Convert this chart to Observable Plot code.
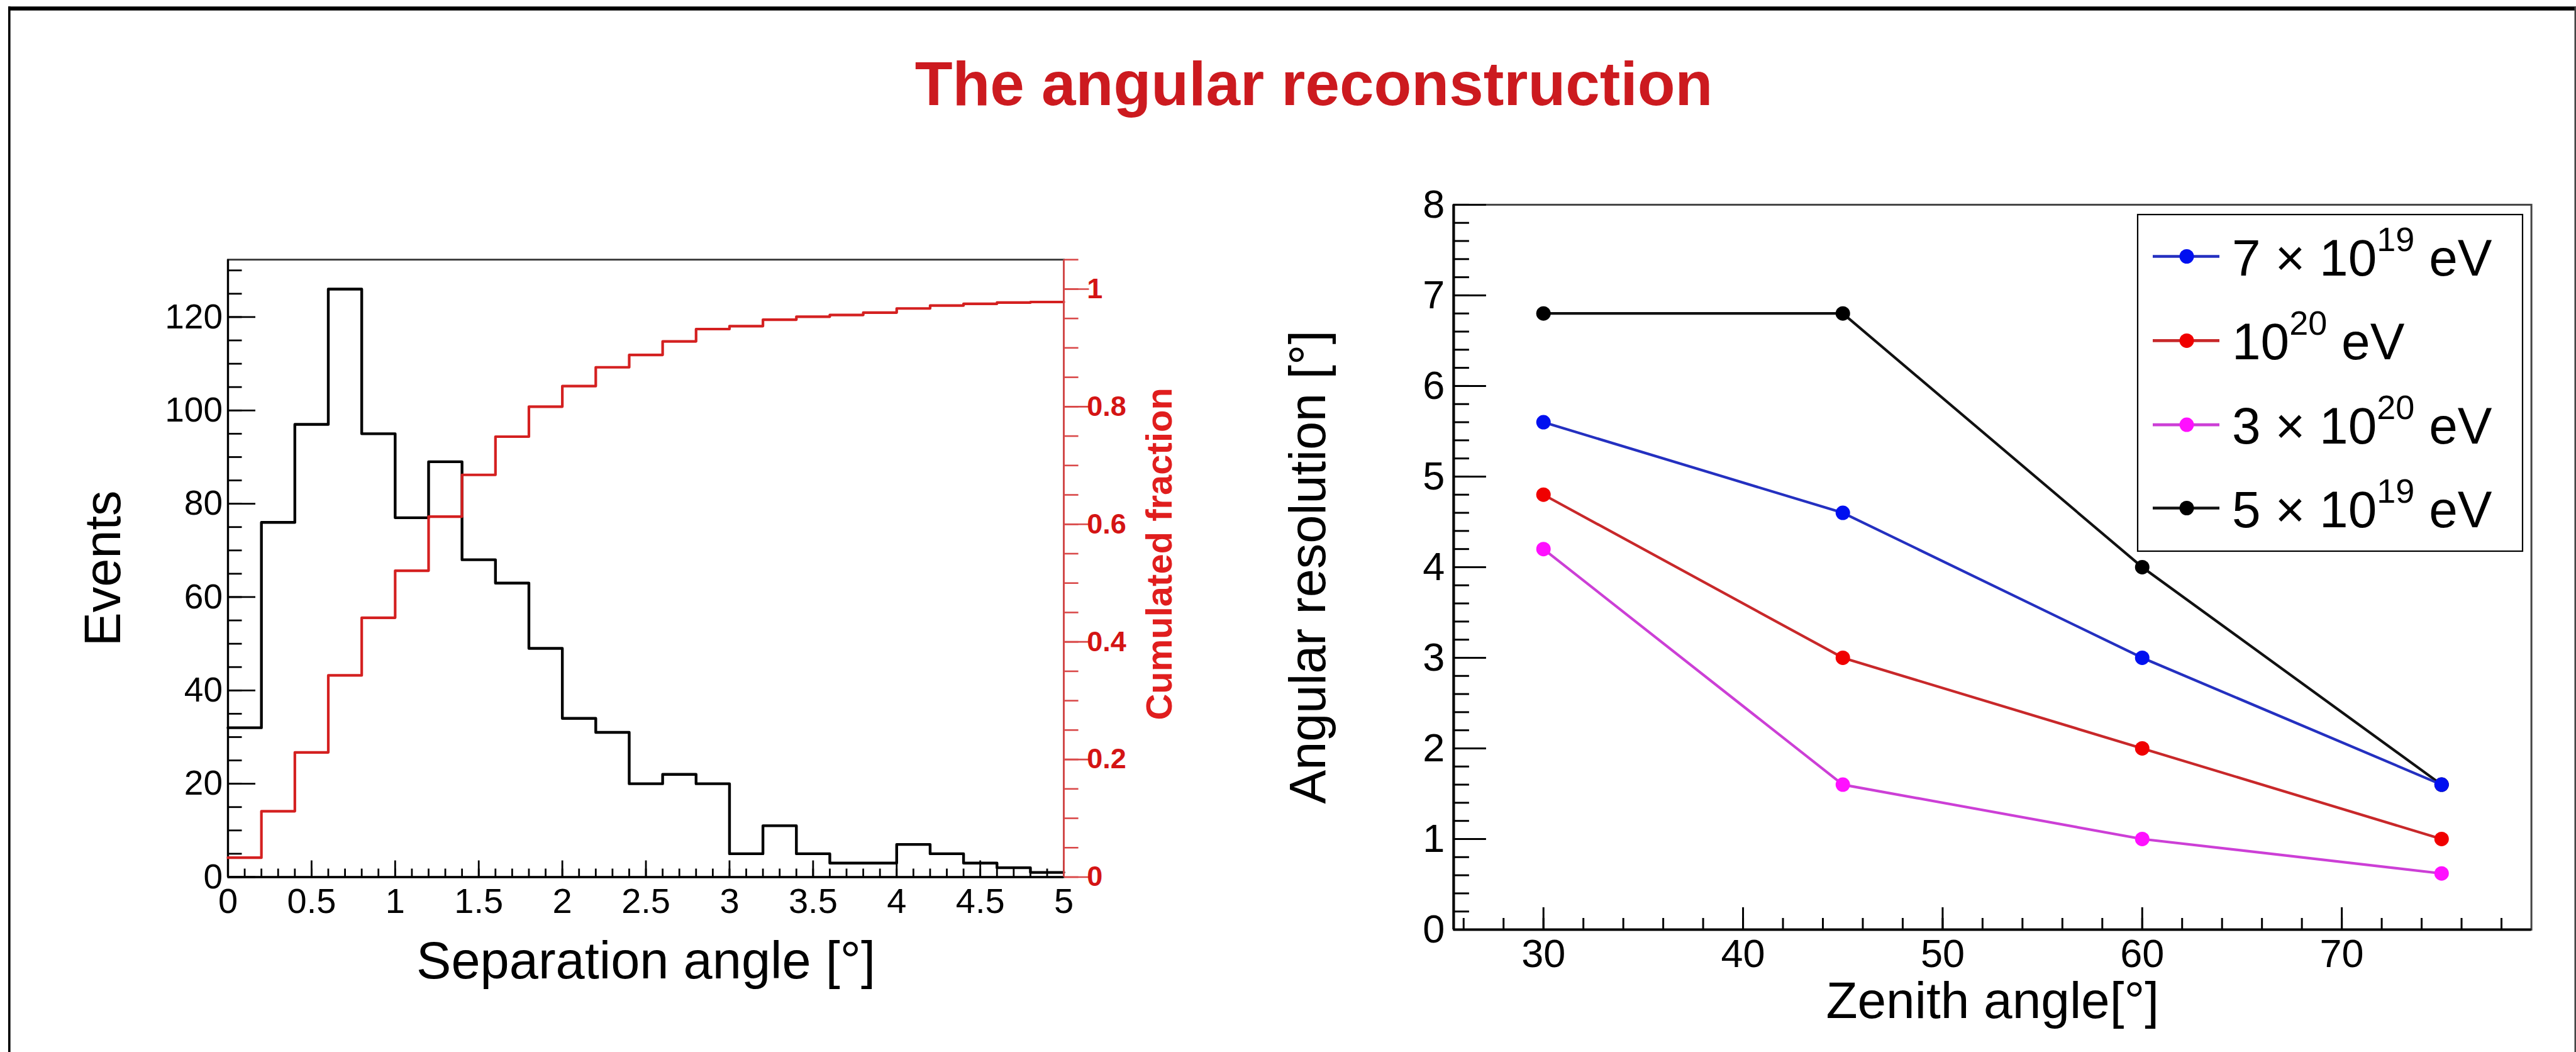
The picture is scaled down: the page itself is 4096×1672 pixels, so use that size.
<!DOCTYPE html>
<html>
<head>
<meta charset="utf-8">
<script src="https://cdn.jsdelivr.net/npm/d3@7"></script>
<script src="https://cdn.jsdelivr.net/npm/@observablehq/plot@0.6"></script>
<style>
html, body { margin: 0; padding: 0; background: #fff; overflow: hidden; }
#root { position: relative; width: 4096px; height: 1672px; overflow: hidden; background: #fff; }
#root > svg { position: absolute; left: 0; top: 0; }
</style>
</head>
<body>
<div id="root"></div>
<script>
// ---------------- data ----------------
const binLow  = [0, 0.2, 0.4, 0.6, 0.8, 1.0, 1.2, 1.4, 1.6, 1.8, 2.0, 2.2, 2.4, 2.6, 2.8, 3.0, 3.2, 3.4, 3.6, 3.8, 4.0, 4.2, 4.4, 4.6, 4.8];
const binHigh = [0.2, 0.4, 0.6, 0.8, 1.0, 1.2, 1.4, 1.6, 1.8, 2.0, 2.2, 2.4, 2.6, 2.8, 3.0, 3.2, 3.4, 3.6, 3.8, 4.0, 4.2, 4.4, 4.6, 4.8, 5.0];
const events  = [32, 76, 97, 126, 95, 77, 89, 68, 63, 49, 34, 31, 20, 22, 20, 5, 11, 5, 3, 3, 7, 5, 3, 2, 1];
const cumulated = [0.033, 0.112, 0.212, 0.343, 0.441, 0.521, 0.613, 0.684, 0.749, 0.800, 0.835, 0.867, 0.888, 0.911, 0.932, 0.937, 0.948, 0.953, 0.956, 0.960, 0.967, 0.972, 0.975, 0.977, 0.978];

const angleTicks    = [0, 0.5, 1, 1.5, 2, 2.5, 3, 3.5, 4, 4.5, 5];
const eventTicks    = [0, 20, 40, 60, 80, 100, 120];
const fractionTicks = [0, 0.2, 0.4, 0.6, 0.8, 1];

const zenith   = [30, 45, 60, 75];
const res7e19  = [5.6, 4.6, 3.0, 1.6];
const res1e20  = [4.8, 3.0, 2.0, 1.0];
const res3e20  = [4.2, 1.6, 1.0, 0.62];
const res5e19  = [6.8, 6.8, 4.0, 1.6];
const zenithTicks = [30, 40, 50, 60, 70];
const resTicks    = [0, 1, 2, 3, 4, 5, 6, 7, 8];

const legendMain = ["7 \u00d7 10", "10", "3 \u00d7 10", "5 \u00d7 10"];
const legendSup  = ["19", "20", "20", "19"];

const xDomainL = [0, 5], yDomainL = [0, 132.3], y2DomainL = [0, 1.05];
const xDomainR = [25.5, 79.5], yDomainR = [0, 8];

// ---------------- layout ----------------
const W = 4096, H = 1672;
const font = "'Liberation Sans', Arial, Helvetica, sans-serif";
const root = document.getElementById("root");
const LP = {l: 362.0, r: 1691.1, t: 412.2, b: 1393.5};
const RP = {l: 2310.9, r: 4024.6, t: 324.9, b: 1477.0};
const margins = g => ({marginLeft: g.l, marginRight: W - g.r, marginTop: g.t, marginBottom: H - g.b});
const baseStyle = {background: "transparent", fontFamily: font, fontSize: "55px", color: "black", overflow: "visible"};
const noText = () => "";
const fmt = d => `${d}`;

// ---------------- left: histogram ----------------
const histPts = events.flatMap((v, i) => [{x: binLow[i], y: v}, {x: binHigh[i], y: v}]);
const p1 = Plot.plot({
  width: W, height: H, ...margins(LP),
  style: baseStyle,
  x: {domain: xDomainL}, y: {domain: yDomainL},
  marks: [
    Plot.frame({stroke: "#333", strokeWidth: 2.8}),
    Plot.ruleX([xDomainL[0]], {stroke: "black", strokeWidth: 3.4}),
    Plot.ruleY([yDomainL[0]], {stroke: "black", strokeWidth: 3.4}),
    Plot.line(histPts, {x: "x", y: "y", stroke: "black", strokeWidth: 4.4}),
    Plot.axisY({ticks: d3.range(0, 131, 5), tickSize: -22.5, tickFormat: noText, strokeWidth: 2.8, label: null}),
    Plot.axisY({ticks: eventTicks, tickSize: -44, tickPadding: 52.5, tickFormat: fmt, strokeWidth: 2.8, fontSize: 55, label: null}),
    Plot.axisX({ticks: d3.range(0, 5.001, 0.1), tickSize: -13, tickFormat: noText, strokeWidth: 2.8, label: null}),
    Plot.axisX({ticks: angleTicks, tickSize: -26, tickPadding: 42.9, tickFormat: fmt, strokeWidth: 2.8, fontSize: 56, label: null}),
    Plot.text(["Events"], {text: d => d, frameAnchor: "left", rotate: -90, dx: -171.4, textAnchor: "middle", lineAnchor: "bottom", fontSize: 81}),
    Plot.text(["Separation angle [\u00b0]"], {text: d => d, frameAnchor: "bottom", dy: 160.5, textAnchor: "middle", lineAnchor: "bottom", fontSize: 83})
  ]
});
root.appendChild(p1);

// ---------------- left: cumulated fraction overlay ----------------
const cumPts = cumulated.flatMap((v, i) => [{x: binLow[i], y: v}, {x: binHigh[i], y: v}]);
const redAxis = "#d94848", redText = "#d41414";
const p2 = Plot.plot({
  width: W, height: H, ...margins(LP),
  style: baseStyle,
  x: {domain: xDomainL, axis: null}, y: {domain: y2DomainL},
  marks: [
    Plot.line(cumPts, {x: "x", y: "y", stroke: "#d42020", strokeWidth: 4.2}),
    Plot.ruleX([xDomainL[1]], {stroke: redAxis, strokeWidth: 2.8}),
    Plot.axisY({anchor: "right", ticks: d3.range(0, 1.051, 0.05), tickSize: 22.5, tickFormat: noText, color: redAxis, strokeWidth: 2.6, label: null}),
    Plot.axisY({anchor: "right", ticks: fractionTicks, tickSize: 39.4, tickPadding: -2.8, tickFormat: fmt, color: redAxis, fill: redText, fontWeight: "bold", fontSize: 45, strokeWidth: 2.6, label: null}),
    Plot.text(["Cumulated fraction"], {text: d => d, frameAnchor: "right", rotate: -90, dx: 171, dy: -23, textAnchor: "middle", lineAnchor: "bottom", fontSize: 58, fontWeight: "bold", fill: "#e01e1e"})
  ]
});
root.appendChild(p2);

// ---------------- right: angular resolution ----------------
const series = [
  {values: res5e19, line: "#111111", dot: "#000000"},
  {values: res7e19, line: "#2430c0", dot: "#0010f0"},
  {values: res1e20, line: "#c8282a", dot: "#f00000"},
  {values: res3e20, line: "#cc3fd6", dot: "#ff10ff"}
];
const seriesMarks = series.flatMap(s => {
  const pts = zenith.map((z, i) => ({z, r: s.values[i]}));
  return [
    Plot.line(pts, {x: "z", y: "r", stroke: s.line, strokeWidth: 4.2}),
    Plot.dot(pts, {x: "z", y: "r", r: 11.5, fill: s.dot, stroke: "none"})
  ];
});
const p3 = Plot.plot({
  width: W, height: H, ...margins(RP),
  style: baseStyle,
  x: {domain: xDomainR}, y: {domain: yDomainR},
  marks: [
    Plot.frame({stroke: "#444", strokeWidth: 3}),
    Plot.ruleX([xDomainR[0]], {stroke: "black", strokeWidth: 4.2}),
    Plot.ruleY([yDomainR[0]], {stroke: "black", strokeWidth: 4.2}),
    Plot.axisY({ticks: d3.range(0, 8.001, 0.2), tickSize: -25, tickFormat: noText, strokeWidth: 3, label: null}),
    Plot.axisY({ticks: resTicks, tickSize: -52, tickPadding: 66, tickFormat: fmt, strokeWidth: 3, fontSize: 63, label: null}),
    Plot.axisX({ticks: d3.range(26, 79, 2), tickSize: -18, tickFormat: noText, strokeWidth: 3, label: null}),
    Plot.axisX({ticks: zenithTicks, tickSize: -35, tickPadding: 50, tickFormat: fmt, strokeWidth: 3, fontSize: 63, label: null}),
    ...seriesMarks,
    Plot.text(["Angular resolution [\u00b0]"], {text: d => d, frameAnchor: "left", rotate: -90, dx: -204, textAnchor: "middle", lineAnchor: "bottom", fontSize: 81}),
    Plot.text(["Zenith angle[\u00b0]"], {text: d => d, frameAnchor: "bottom", dy: 140, textAnchor: "middle", lineAnchor: "bottom", fontSize: 82})
  ]
});
root.appendChild(p3);

// ---------------- title, page frame, legend ----------------
const ov = d3.select(root).append("svg")
  .attr("width", W).attr("height", H)
  .style("font-family", font);

ov.append("rect").attr("x", 13).attr("y", 10.3).attr("width", W - 13).attr("height", 6.4).attr("fill", "black");
ov.append("rect").attr("x", 13).attr("y", 10.3).attr("width", 3.6).attr("height", H).attr("fill", "black");
ov.append("rect").attr("x", W - 2.5).attr("y", 10.3).attr("width", 2.5).attr("height", H).attr("fill", "#444");

ov.append("text")
  .attr("x", 2089).attr("y", 167)
  .attr("text-anchor", "middle")
  .attr("font-size", 98).attr("font-weight", "bold")
  .attr("fill", "#cc1a1f")
  .text("The angular reconstruction");

const lg = ov.append("g");
lg.append("rect").attr("x", 3399).attr("y", 341).attr("width", 612).attr("height", 535)
  .attr("fill", "white").attr("stroke", "black").attr("stroke-width", 2.2);
const legendColors = [series[1], series[2], series[3], series[0]];
const rowY = [407.5, 541.4, 675.1, 807.5];
legendMain.forEach((m, i) => {
  const c = legendColors[i], y = rowY[i];
  lg.append("line").attr("x1", 3423).attr("x2", 3529).attr("y1", y).attr("y2", y)
    .attr("stroke", c.line).attr("stroke-width", 4.6);
  lg.append("circle").attr("cx", 3477).attr("cy", y).attr("r", 11.5).attr("fill", c.dot);
  const t = lg.append("text").attr("x", 3549).attr("y", y + 30).attr("font-size", 82).attr("fill", "black");
  t.append("tspan").text(m);
  t.append("tspan").attr("font-size", 54).attr("dy", -39).text(legendSup[i]);
  t.append("tspan").attr("font-size", 82).attr("dy", 39).text("\u00a0eV");
});
</script>
</body>
</html>
